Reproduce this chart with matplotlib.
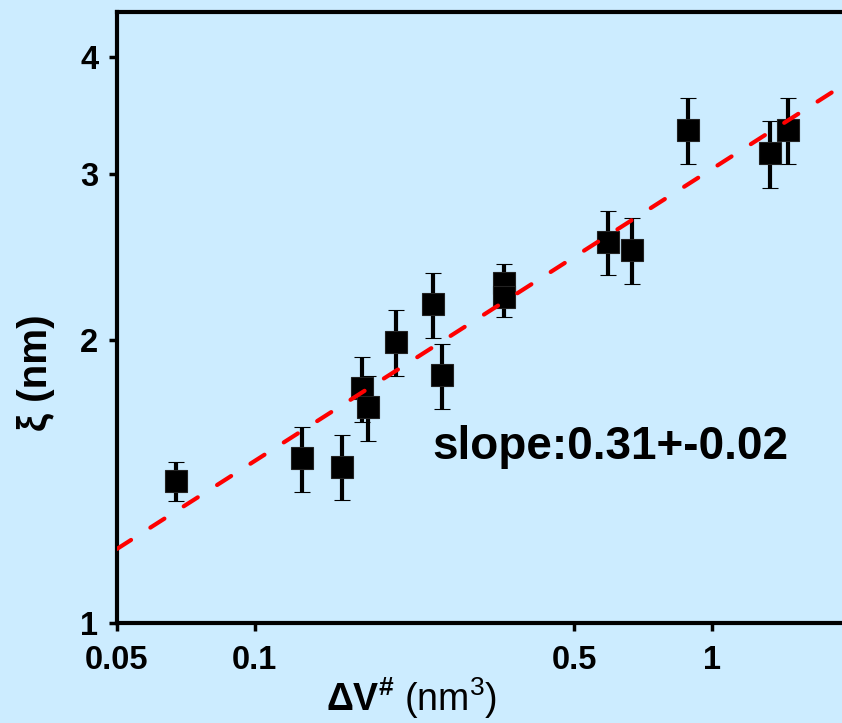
import matplotlib
matplotlib.use("Agg")
import matplotlib.pyplot as plt
from matplotlib.ticker import FixedLocator, FixedFormatter, NullLocator

plt.rcParams['font.family'] = ['Liberation Sans', 'DejaVu Sans']
plt.rcParams['mathtext.fontset'] = 'custom'
plt.rcParams['mathtext.rm'] = 'Liberation Sans'
plt.rcParams['mathtext.bf'] = 'Liberation Sans:bold'
plt.rcParams['mathtext.it'] = 'Liberation Sans:italic'

BG = '#CCECFF'

# activation volume (nm^3) vs correlation length xi (nm)
dv = [0.0673, 0.1268, 0.1551, 0.1716, 0.1774, 0.2036, 0.2460, 0.2567,
      0.3513, 0.3513, 0.5933, 0.6696, 0.8892, 1.342, 1.472]
xi = [1.416, 1.497, 1.467, 1.777, 1.696, 1.992, 2.183, 1.836,
      2.302, 2.220, 2.543, 2.494, 3.346, 3.164, 3.346]
xi_err = [0.067, 0.12, 0.117, 0.142, 0.135, 0.16, 0.175, 0.147,
          0.108, 0.105, 0.20, 0.20, 0.27, 0.26, 0.27]

# power-law fit end points (slope 0.31)
fit_x = [0.05, 1.93]
fit_y = [1.199, 3.727]

xticks = [0.05, 0.1, 0.5, 1]
xtick_labels = ['0.05', '0.1', '0.5', '1']
yticks = [1, 2, 3, 4]
ytick_labels = ['1', '2', '3', '4']

fig = plt.figure(figsize=(8.42, 7.23), dpi=100, facecolor=BG)
ax = fig.add_axes([117 / 842, 100 / 723, 725 / 842, 611.3 / 723])
ax.set_facecolor(BG)

ax.errorbar(dv, xi, yerr=xi_err, fmt='s', color='black', ms=15.6,
            mec='#222222', mew=0.8, elinewidth=3, capsize=6, capthick=3.5,
            zorder=3)
ax.plot(fit_x, fit_y, color='#ff0000', lw=3, dashes=(4, 5.5),
        dash_capstyle='round', zorder=4)

ax.set_xscale('log')
ax.set_yscale('log')
ax.set_xlim(0.05, 1.93)
ax.set_ylim(1, 4.47)

ax.xaxis.set_major_locator(FixedLocator(xticks))
ax.xaxis.set_major_formatter(FixedFormatter(xtick_labels))
ax.xaxis.set_minor_locator(NullLocator())
ax.yaxis.set_major_locator(FixedLocator(yticks))
ax.yaxis.set_major_formatter(FixedFormatter(ytick_labels))
ax.yaxis.set_minor_locator(NullLocator())

for side in ['left', 'bottom', 'top']:
    ax.spines[side].set_linewidth(3)
ax.spines['right'].set_visible(False)

ax.tick_params(axis='both', direction='out', length=5.5, width=2.5,
               labelsize=23.5)
ax.tick_params(axis='x', pad=10)
ax.tick_params(axis='y', pad=8)
for lbl in ax.get_xticklabels() + ax.get_yticklabels():
    lbl.set_fontweight('bold')

ax.text(0.245, 1.54, 'slope:0.31+-0.02', fontsize=33, fontweight='bold',
        ha='left', va='center')

fig.text(36 / 842, 350 / 723, 'ξ (nm)', rotation=90, fontsize=29,
         fontweight='bold', ha='center', va='center')
fig.text(412 / 842, 12 / 723, r'$\mathbf{\Delta V^{\#}}$ (nm$^{3}$)',
         fontsize=27, ha='center', va='baseline')

fig.savefig('out.png', dpi=100, facecolor=BG)
